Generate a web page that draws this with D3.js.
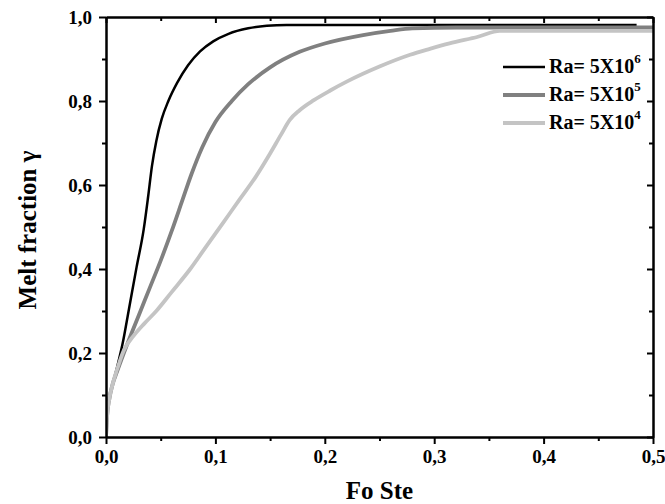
<!DOCTYPE html>
<html>
<head>
<meta charset="utf-8">
<script src="https://cdn.jsdelivr.net/npm/d3@7"></script>
<style>
  html, body { margin: 0; padding: 0; background: #fff; }
  svg { display: block; }
  text { font-family: "Liberation Serif", "Times New Roman", serif; font-weight: bold; fill: #000; }
</style>
</head>
<body>
<svg id="chart" width="665" height="504"></svg>
<script>
// Melt fraction vs Fo·Ste for three Rayleigh numbers
const xTicks = [0, 0.1, 0.2, 0.3, 0.4, 0.5];
const yTicks = [0, 0.2, 0.4, 0.6, 0.8, 1.0];
const xMinor = [0.05, 0.15, 0.25, 0.35, 0.45];
const yMinor = [0.1, 0.3, 0.5, 0.7, 0.9];

const seriesNames = ["Ra= 5X10", "Ra= 5X10", "Ra= 5X10"];
const seriesExp = ["6", "5", "4"];
const seriesColors = ["#000000", "#808080", "#c4c4c4"];
const seriesWidths = [2.5, 3.8, 3.8];

// Ra = 5x10^6
const ra6 = [[0,0],[0.001,0.05],[0.003,0.09],[0.006,0.125],[0.01,0.165],[0.015,0.22],[0.021,0.305],
  [0.028,0.405],[0.0345,0.495],[0.0385,0.572],[0.042,0.645],[0.046,0.705],[0.051,0.758],[0.057,0.8],
  [0.065,0.843],[0.075,0.885],[0.086,0.918],[0.098,0.942],[0.112,0.96],[0.13,0.973],[0.147,0.979],
  [0.165,0.981],[0.485,0.981]];
// Ra = 5x10^5
const ra5 = [[0,0],[0.001,0.05],[0.003,0.09],[0.006,0.125],[0.01,0.155],[0.02,0.225],[0.03,0.29],
  [0.04,0.355],[0.05,0.42],[0.06,0.49],[0.07,0.565],[0.078,0.625],[0.088,0.69],[0.1,0.75],
  [0.115,0.8],[0.13,0.84],[0.15,0.88],[0.177,0.917],[0.2,0.937],[0.235,0.957],[0.26,0.967],
  [0.28,0.973],[0.32,0.975],[0.5,0.975]];
// Ra = 5x10^4
const ra4 = [[0,0],[0.001,0.05],[0.003,0.09],[0.006,0.125],[0.01,0.16],[0.016,0.205],[0.025,0.24],
  [0.035,0.27],[0.046,0.3],[0.06,0.345],[0.077,0.4],[0.092,0.455],[0.107,0.51],[0.122,0.565],
  [0.137,0.62],[0.15,0.675],[0.16,0.72],[0.168,0.755],[0.177,0.778],[0.19,0.802],[0.205,0.825],
  [0.22,0.846],[0.25,0.882],[0.278,0.91],[0.296,0.924],[0.314,0.937],[0.34,0.953],[0.36,0.967],
  [0.5,0.967]];

const seriesData = [ra6, ra5, ra4];

const svg = d3.select("#chart");
const plotLeft = 106, plotRight = 653, plotTop = 17, plotBottom = 437;

const x = d3.scaleLinear().domain([0, 0.5]).range([plotLeft, plotRight]);
const y = d3.scaleLinear().domain([0, 1.0]).range([plotBottom, plotTop]);
const fmt = d => d3.format(".1f")(d).replace(".", ",");

// curves (clipped to plot area)
svg.append("clipPath").attr("id", "plot-clip")
  .append("rect").attr("x", plotLeft).attr("y", plotTop)
  .attr("width", plotRight - plotLeft).attr("height", plotBottom - plotTop);

const line = d3.line().x(d => x(d[0])).y(d => y(d[1])).curve(d3.curveMonotoneX);
const curves = svg.append("g").attr("clip-path", "url(#plot-clip)");
seriesData.forEach((data, i) => {
  curves.append("path")
    .attr("d", line(data))
    .attr("fill", "none")
    .attr("stroke", seriesColors[i])
    .attr("stroke-width", seriesWidths[i])
    .attr("stroke-linejoin", "round");
});

// axes
function styleAxis(g) {
  g.select(".domain").attr("stroke", "#000").attr("stroke-width", 2);
  g.selectAll(".tick line").attr("stroke", "#000").attr("stroke-width", 2);
  g.selectAll(".tick text").style("font-size", "19px");
}

// bottom
svg.append("g").attr("transform", `translate(0,${plotBottom})`)
  .call(d3.axisBottom(x).tickValues(xTicks).tickFormat(fmt).tickSize(7).tickSizeOuter(0).tickPadding(6))
  .call(styleAxis);
svg.append("g").attr("transform", `translate(0,${plotBottom})`)
  .call(d3.axisBottom(x).tickValues(xMinor).tickFormat("").tickSize(4).tickSizeOuter(0))
  .call(styleAxis);

// left
svg.append("g").attr("transform", `translate(${plotLeft},0)`)
  .call(d3.axisLeft(y).tickValues(yTicks).tickFormat(fmt).tickSize(7).tickSizeOuter(0).tickPadding(7))
  .call(styleAxis);
svg.append("g").attr("transform", `translate(${plotLeft},0)`)
  .call(d3.axisLeft(y).tickValues(yMinor).tickFormat("").tickSize(4).tickSizeOuter(0))
  .call(styleAxis);

// top (ticks pointing inward)
svg.append("g").attr("transform", `translate(0,${plotTop})`)
  .call(d3.axisTop(x).tickValues(xTicks).tickFormat("").tickSize(-6).tickSizeOuter(0))
  .call(styleAxis);
svg.append("g").attr("transform", `translate(0,${plotTop})`)
  .call(d3.axisTop(x).tickValues(xMinor).tickFormat("").tickSize(-4).tickSizeOuter(0))
  .call(styleAxis);

// right (ticks pointing inward)
svg.append("g").attr("transform", `translate(${plotRight},0)`)
  .call(d3.axisRight(y).tickValues(yTicks).tickFormat("").tickSize(-6).tickSizeOuter(0))
  .call(styleAxis);
svg.append("g").attr("transform", `translate(${plotRight},0)`)
  .call(d3.axisRight(y).tickValues(yMinor).tickFormat("").tickSize(-4).tickSizeOuter(0))
  .call(styleAxis);

// axis titles
svg.append("text")
  .attr("x", (plotLeft + plotRight) / 2).attr("y", 499)
  .attr("text-anchor", "middle").style("font-size", "25px")
  .text("Fo Ste");
svg.append("text")
  .attr("transform", `translate(36,${(plotTop + plotBottom) / 2 + 3}) rotate(-90)`)
  .attr("text-anchor", "middle").style("font-size", "25px")
  .text("Melt fraction γ");

// legend
const legend = svg.append("g");
seriesNames.forEach((name, i) => {
  const ly = 67 + i * 28;
  legend.append("line")
    .attr("x1", 503).attr("x2", 545).attr("y1", ly).attr("y2", ly)
    .attr("stroke", seriesColors[i]).attr("stroke-width", seriesWidths[i]);
  const t = legend.append("text")
    .attr("x", 549).attr("y", ly + 6)
    .style("font-size", "20px");
  t.append("tspan").text(name);
  t.append("tspan").attr("dy", -10).style("font-size", "13px").text(seriesExp[i]);
});
</script>
</body>
</html>
